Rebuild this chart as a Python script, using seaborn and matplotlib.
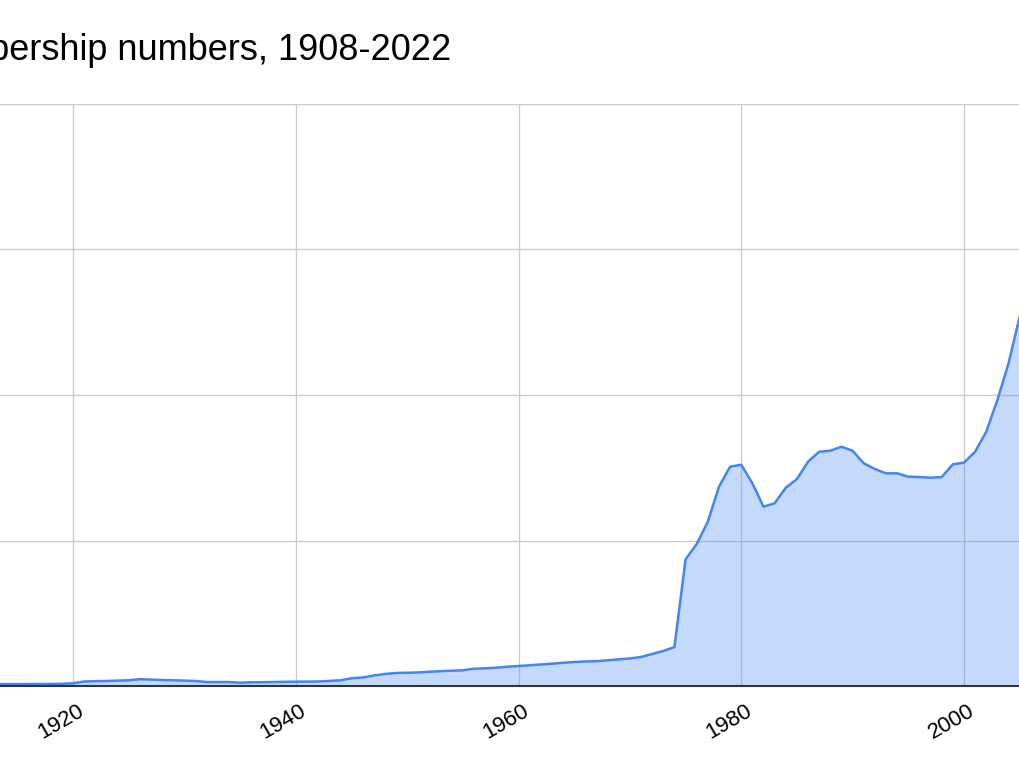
import matplotlib
matplotlib.use("Agg")
import matplotlib.pyplot as plt
from matplotlib.transforms import ScaledTranslation
import numpy as np
import pandas as pd
import seaborn as sns

# membership per year (visible part of the chart)
years = list(range(1908, 2006))
members = [
    580, 580, 600, 600, 620, 620, 640, 640, 660, 680, 700, 760,          # 1908-1919
    930, 1550, 1650, 1720, 1860, 1960, 2340, 2200, 2060, 1960,           # 1920-1929
    1860, 1720, 1370, 1370, 1370, 1130, 1270, 1310, 1370, 1440,          # 1930-1939
    1480, 1510, 1550, 1720, 1960, 2650, 2920, 3610, 4120, 4470,          # 1940-1949
    4540, 4670, 4880, 5090, 5260, 5390, 5940, 6080, 6290, 6630,          # 1950-1959
    6870, 7110, 7390, 7660, 7970, 8250, 8420, 8520, 8830, 9170,          # 1960-1969
    9450, 9960, 11000, 12030, 13400, 43530, 48790, 56450, 68480, 75350,  # 1970-1979
    76040, 69650, 61610, 62780, 68130, 71120, 77070, 80500, 80850, 82220,  # 1980-1989
    80850, 76520, 74560, 73080, 73080, 71920, 71810, 71570, 71810, 76170,  # 1990-1999
    76730, 80500, 87380, 98270, 110880, 126890,                          # 2000-2005
]
x_ticks = [1920, 1940, 1960, 1980, 2000]
y_ticks = [0, 50000, 100000, 150000, 200000]
title = "Membership numbers, 1908-2022"

df = pd.DataFrame({"year": years, "members": members})

sns.set_style("white")
plt.rcParams["font.family"] = ["Liberation Sans", "DejaVu Sans"]

fig = plt.figure(figsize=(10.2, 7.64), dpi=100)
ax = fig.add_axes([0, (764 - 686) / 764, 1, (686 - 104) / 764])

blue = "#4285f4"
ax.fill_between(df["year"], 0, df["members"], color=blue, alpha=0.3, lw=0, zorder=2)
sns.lineplot(data=df, x="year", y="members", ax=ax, color=blue, lw=1.8, zorder=3)

ax.set_xlim(1913.44, 2005.03)
ax.set_ylim(0, 200000)
ax.set_xticks(x_ticks)
ax.set_yticks(y_ticks)
ax.set_yticklabels([])
ax.grid(True, color="#cccccc", lw=1.0, zorder=0)
ax.set_axisbelow(True)
for s in ax.spines.values():
    s.set_visible(False)
ax.axhline(0, color="#333333", lw=1.5, clip_on=False, zorder=4)

ax.set_xlabel("")
ax.set_ylabel("")
ax.tick_params(axis="both", length=0)
ax.tick_params(axis="x", pad=10.5, labelsize=16, labelcolor="#000000")
shift = ScaledTranslation(-12.5 / 100, 0, fig.dpi_scale_trans)
for lab in ax.get_xticklabels():
    lab.set_rotation(30)
    lab.set_ha("center")
    lab.set_transform(lab.get_transform() + shift)

fig.text(451 / 1020, 1 - 59.5 / 764, title, ha="right", va="baseline",
         fontsize=26, color="#000000")

fig.savefig("out.png", dpi=100)
plt.close(fig)
